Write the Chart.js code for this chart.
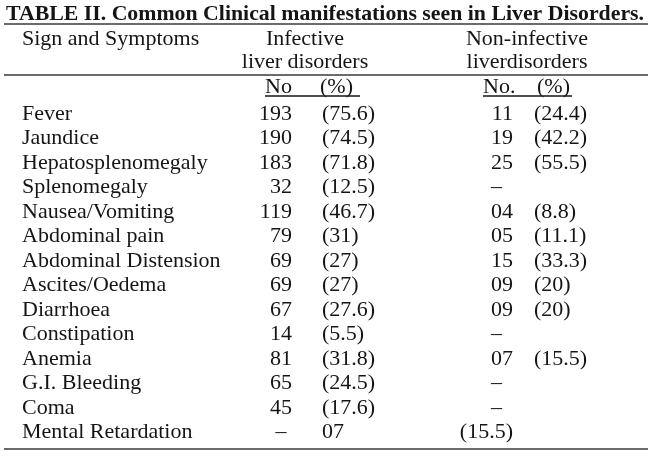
<!DOCTYPE html>
<html>
<head>
<meta charset="utf-8">
<script src="https://cdn.jsdelivr.net/npm/chart.js@4/dist/chart.umd.min.js"></script>
<style>
  html, body { margin: 0; padding: 0; background: #ffffff; }
  #wrap { width: 650px; height: 458px; position: relative; }
</style>
</head>
<body>
<div id="wrap"><canvas id="c"></canvas></div>
<script>
// ---- Table content (as printed) ----
const tableTitle = 'TABLE II. Common Clinical manifestations seen in Liver Disorders.';
const firstHeader = 'Sign and Symptoms';
const groupHeaders = [['Infective', 'liver disorders'], ['Non-infective', 'liverdisorders']];
const subHeaders = [['No', '(%)'], ['No.', '(%)']];

const symptoms = ['Fever', 'Jaundice', 'Hepatosplenomegaly', 'Splenomegaly', 'Nausea/Vomiting',
  'Abdominal pain', 'Abdominal Distension', 'Ascites/Oedema', 'Diarrhoea', 'Constipation',
  'Anemia', 'G.I. Bleeding', 'Coma', 'Mental Retardation'];
const infectiveNo  = ['193', '190', '183', '32', '119', '79', '69', '69', '67', '14', '81', '65', '45', '–'];
const infectivePct = ['(75.6)', '(74.5)', '(71.8)', '(12.5)', '(46.7)', '(31)', '(27)', '(27)', '(27.6)', '(5.5)', '(31.8)', '(24.5)', '(17.6)', '07'];
const nonInfNo     = ['11', '19', '25', '–', '04', '05', '15', '09', '09', '–', '07', '–', '–', '(15.5)'];
const nonInfPct    = ['(24.4)', '(42.2)', '(55.5)', '', '(8.8)', '(11.1)', '(33.3)', '(20)', '(20)', '', '(15.5)', '', '', ''];

// ---- Layout / style ----
const FONT = '"Liberation Serif", "Times New Roman", serif';
const INK = '#151515';
const RULE = '#3a3a3a';
const L = {
  titleX: 6, titleBase: 20, titleWidth: 638,
  rules: [24, 75, 449], ruleL: 4, ruleR: 648,
  hdrX: 22, hdr1: 45, hdr2: 68, subBase: 93, underline: 96,
  groups: [{ center: 305, no: 265, pct: 320, ulEnd: 360 }, { center: 527, no: 483, pct: 537, ulEnd: 572 }],
  cols: [{ x: 292, align: 'right', dash: 'center' }, { x: 322, align: 'left' },
         { x: 513, align: 'right', dash: 'left' }, { x: 534, align: 'left' }]
};
const columns = [infectiveNo, infectivePct, nonInfNo, nonInfPct];

const tablePlugin = {
  id: 'tableText',
  afterDraw(chart) {
    const ctx = chart.ctx;
    const yScale = chart.scales.y;
    ctx.save();
    ctx.fillStyle = INK;
    // title
    ctx.font = 'bold 22px ' + FONT;
    ctx.textBaseline = 'alphabetic';
    ctx.textAlign = 'left';
    const tw = ctx.measureText(tableTitle).width;
    ctx.save();
    ctx.translate(L.titleX, L.titleBase);
    ctx.scale(L.titleWidth / tw, 1);
    ctx.fillText(tableTitle, 0, 0);
    ctx.restore();
    // rules
    ctx.strokeStyle = RULE;
    ctx.lineWidth = 1.6;
    L.rules.forEach(y => {
      ctx.beginPath(); ctx.moveTo(L.ruleL, y); ctx.lineTo(L.ruleR, y); ctx.stroke();
    });
    // headers
    ctx.font = '22px ' + FONT;
    ctx.textAlign = 'left';
    ctx.fillText(firstHeader, L.hdrX, L.hdr1);
    groupHeaders.forEach((g, i) => {
      ctx.textAlign = 'center';
      ctx.fillText(g[0], L.groups[i].center, L.hdr1);
      ctx.fillText(g[1], L.groups[i].center, L.hdr2);
      ctx.textAlign = 'left';
      ctx.fillText(subHeaders[i][0], L.groups[i].no, L.subBase);
      ctx.fillText(subHeaders[i][1], L.groups[i].pct, L.subBase);
      ctx.lineWidth = 1.3;
      ctx.strokeStyle = INK;
      ctx.beginPath(); ctx.moveTo(L.groups[i].no, L.underline); ctx.lineTo(L.groups[i].ulEnd, L.underline); ctx.stroke();
    });
    // cells
    ctx.textBaseline = 'middle';
    const twoDigit = ctx.measureText('00').width;
    symptoms.forEach((s, r) => {
      const y = yScale.getPixelForValue(r);
      columns.forEach((col, c) => {
        const v = col[r];
        if (!v) return;
        const spec = L.cols[c];
        if (v === '–' && spec.dash) {
          if (spec.dash === 'center') { ctx.textAlign = 'center'; ctx.fillText(v, spec.x - twoDigit / 2, y); }
          else { ctx.textAlign = 'left'; ctx.fillText(v, spec.x - twoDigit, y); }
        } else {
          ctx.textAlign = spec.align;
          ctx.fillText(v, spec.x, y);
        }
      });
    });
    ctx.restore();
  }
};

new Chart(document.getElementById('c'), {
  type: 'bar',
  data: {
    labels: symptoms,
    datasets: [{
      label: 'Infective liver disorders (No)',
      data: infectiveNo.map(v => { const n = parseFloat(v); return isNaN(n) ? null : n; }),
      backgroundColor: 'rgba(0,0,0,0)', borderWidth: 0
    }]
  },
  options: {
    indexAxis: 'y',
    responsive: true,
    maintainAspectRatio: false,
    animation: false,
    events: [],
    layout: { padding: { top: 101.6, bottom: 4, left: 22, right: 4 } },
    plugins: { legend: { display: false }, title: { display: false }, tooltip: { enabled: false } },
    scales: {
      x: { display: false, min: 0, max: 200 },
      y: {
        type: 'category', offset: true,
        grid: { display: false, drawTicks: false },
        border: { display: false },
        ticks: { autoSkip: false, crossAlign: 'far', padding: 0, color: INK, font: { family: FONT, size: 22 } }
      }
    }
  },
  plugins: [tablePlugin]
});
</script>
</body>
</html>
